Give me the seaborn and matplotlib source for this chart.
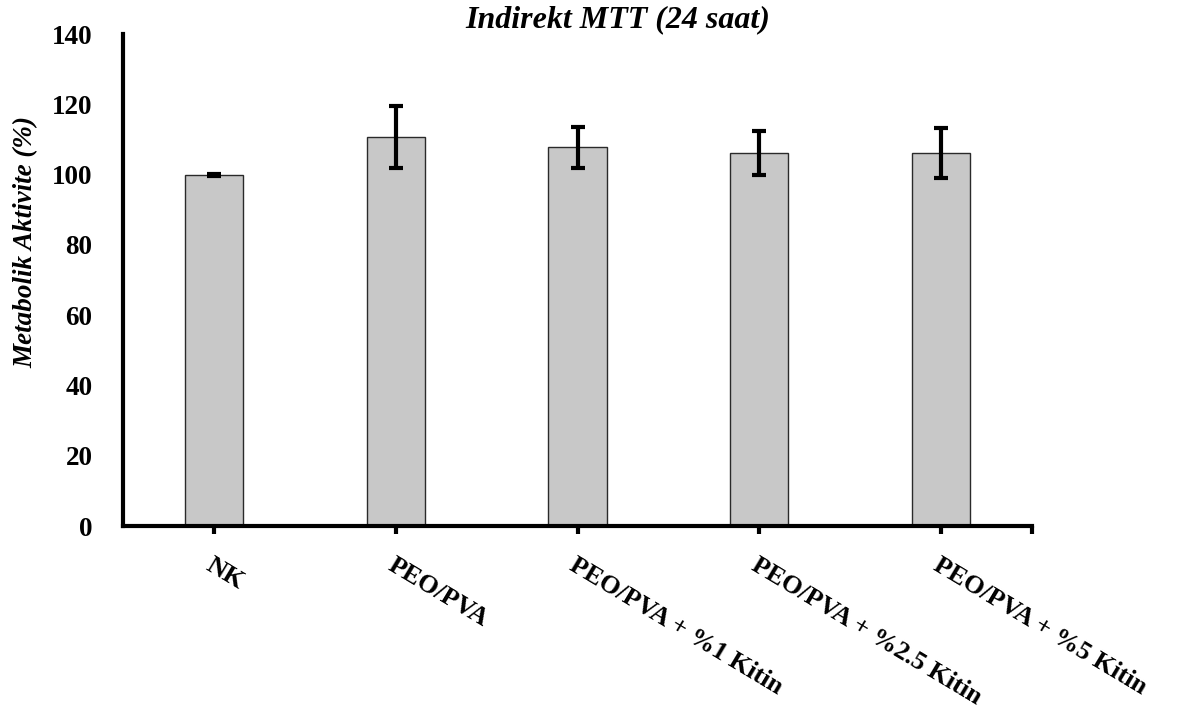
import matplotlib
matplotlib.use("Agg")
import matplotlib.pyplot as plt
import seaborn as sns
import pandas as pd
import numpy as np

groups = ["NK", "PEO/PVA", "PEO/PVA + %1 Kitin", "PEO/PVA + %2.5 Kitin", "PEO/PVA + %5 Kitin"]
activity = [100.0, 110.7, 107.8, 106.2, 106.2]
sd = [0.3, 8.9, 5.9, 6.2, 7.2]
yticks = [0, 20, 40, 60, 80, 100, 120, 140]

sns.set_theme(style="white")
plt.rcParams["font.family"] = ["Liberation Serif", "DejaVu Serif"]
plt.rcParams["text.color"] = "black"
plt.rcParams["xtick.color"] = "black"
plt.rcParams["ytick.color"] = "black"

df = pd.DataFrame({"grup": groups, "aktivite": activity, "sd": sd})

fig = plt.figure(figsize=(11.86, 7.11), dpi=100)
ax = fig.add_axes([0.1037, 0.260, 0.7665, 0.692])

sns.barplot(data=df, x="grup", y="aktivite", order=groups, color="#c8c8c8",
            saturation=1, width=0.32, edgecolor="#2a2a2a", linewidth=1.0,
            errorbar=None, ax=ax)

centers = [p.get_x() + p.get_width() / 2 for p in ax.patches]
ax.errorbar(centers, df["aktivite"], yerr=df["sd"], fmt="none", ecolor="black",
            elinewidth=3, capsize=5, capthick=3, zorder=5)

ax.set_xlim(-0.5, len(groups) - 0.5)
ax.set_ylim(0, 140)
ax.set_yticks(yticks)
ax.set_yticklabels([str(v) for v in yticks], fontsize=19.5, fontweight="bold",
                   color="black")
ax.set_xticks(range(len(groups)))
ax.set_xticklabels(groups, fontsize=19, fontweight="bold", rotation=-31,
                   ha="left", va="top", rotation_mode="anchor", color="black")
ax.set_xticks([len(groups) - 0.5], minor=True)

for side in ["top", "right"]:
    ax.spines[side].set_visible(False)
for side in ["left", "bottom"]:
    ax.spines[side].set_linewidth(3)
    ax.spines[side].set_color("black")

ax.tick_params(axis="y", length=0, pad=22)
ax.tick_params(axis="x", which="both", direction="out", length=6, width=3,
               color="black", bottom=True, pad=14)
ax.set_xlabel("")
ax.set_ylabel("")

fig.text(0.521, 0.972, "Indirekt MTT (24 saat)", ha="center", va="center",
         fontsize=23, fontweight="bold", fontstyle="italic", color="black")
fig.text(0.022, 0.66, "Metabolik Aktivite (%)", ha="center", va="center",
         rotation=90, fontsize=19.5, fontweight="bold", fontstyle="italic",
         color="black")

fig.savefig("out.png", dpi=100, facecolor="white")
